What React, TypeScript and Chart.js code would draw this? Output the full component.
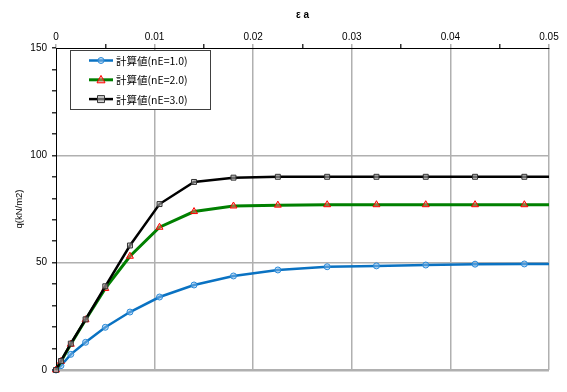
import React, { useEffect, useRef } from 'react';
import { Chart, registerables } from 'chart.js';
Chart.register(...registerables);

// ---- data ----
const strainValues = [0, 0.0005, 0.0015, 0.003, 0.005, 0.0075, 0.0105, 0.014, 0.018, 0.0225, 0.0275, 0.0325, 0.0375, 0.0425, 0.0475, 0.05];
const qNE10 = [0, 2, 7.3, 12.9, 19.9, 27, 34, 39.6, 43.8, 46.6, 48.1, 48.5, 48.9, 49.3, 49.4, 49.4];
const qNE20 = [0, 4, 12, 23.4, 38, 53, 66.5, 73.8, 76.4, 76.8, 77, 77, 77, 77, 77, 77];
const qNE30 = [0, 4.2, 12.3, 23.6, 39, 58, 77.3, 87.6, 89.6, 90, 90, 90, 90, 90, 90, 90];
const seriesLabels = ['計算値(nE=1.0)', '計算値(nE=2.0)', '計算値(nE=3.0)'];
const xTickLabels = ['0', '0.01', '0.02', '0.03', '0.04', '0.05'];
const yTickLabels = ['0', '50', '100', '150'];
const xTitle = 'ε a';
const yTitle = 'q(kN/m2)';

const toPoints = (ys: number[]) => strainValues.map((x, i) => ({ x, y: ys[i] }));
const lastIdx = strainValues.length - 1;

const GRID = '#b0b0b0';

function drawMarker(ctx: CanvasRenderingContext2D, style: string, x: number, y: number, r: number, fill: string, stroke: string) {
  ctx.beginPath();
  if (style === 'circle') {
    ctx.arc(x, y, r, 0, Math.PI * 2);
  } else if (style === 'triangle') {
    ctx.moveTo(x, y - r * 1.1);
    ctx.lineTo(x + r, y + r * 0.75);
    ctx.lineTo(x - r, y + r * 0.75);
    ctx.closePath();
  } else {
    ctx.rect(x - r, y - r, r * 2, r * 2);
  }
  ctx.fillStyle = fill;
  ctx.fill();
  ctx.lineWidth = 1;
  ctx.strokeStyle = stroke;
  ctx.stroke();
}

const boxLegend = {
  id: 'boxLegend',
  afterDraw(chart: any) {
    const ctx: CanvasRenderingContext2D = chart.ctx;
    const x0 = 70, y0 = 50, w = 140, h = 59;
    ctx.save();
    ctx.fillStyle = '#ffffff';
    ctx.fillRect(x0, y0, w, h);
    ctx.strokeStyle = '#404040';
    ctx.lineWidth = 1;
    ctx.strokeRect(x0 + 0.5, y0 + 0.5, w, h);
    [0, 1, 2].forEach((i, row) => {
      const ds = chart.data.datasets[i];
      const y = y0 + 10.5 + row * 19.3;
      ctx.beginPath();
      ctx.moveTo(x0 + 19, y);
      ctx.lineTo(x0 + 43, y);
      ctx.strokeStyle = ds.borderColor;
      ctx.lineWidth = ds.borderWidth;
      ctx.stroke();
      drawMarker(ctx, ds.pointStyle, x0 + 31, y, ds.markerSize, ds.pointBackgroundColor, ds.pointBorderColor);
      ctx.fillStyle = '#000';
      ctx.font = '10.5px "Noto Sans CJK JP", sans-serif';
      ctx.textBaseline = 'middle';
      ctx.textAlign = 'left';
      ctx.fillText(ds.label, x0 + 46, y + 0.5);
    });
    ctx.restore();
  },
};

const radiusFn = (r: number) => (c: any) => (c.dataIndex === lastIdx ? 0 : r);

export default function App() {
  const ref = useRef<HTMLCanvasElement>(null);
  useEffect(() => {
    if (!ref.current) return;
    const chart = new Chart(ref.current, {
      type: 'line',
      data: {
        datasets: [
          {
            label: seriesLabels[0],
            data: toPoints(qNE10),
            borderColor: '#0a72c2',
            borderWidth: 2.5,
            pointStyle: 'circle',
            markerSize: 3,
            pointRadius: radiusFn(3),
            pointBackgroundColor: 'rgba(140,190,235,0.5)',
            pointBorderColor: '#2a8ad8',
            pointBorderWidth: 1,
            clip: false,
            order: 2,
          } as any,
          {
            label: seriesLabels[1],
            data: toPoints(qNE20),
            borderColor: '#008000',
            borderWidth: 3,
            pointStyle: 'triangle',
            markerSize: 4,
            pointRadius: radiusFn(4),
            pointBackgroundColor: 'rgba(255,130,130,0.5)',
            pointBorderColor: '#ff0000',
            pointBorderWidth: 1,
            clip: false,
            order: 1,
          } as any,
          {
            label: seriesLabels[2],
            data: toPoints(qNE30),
            borderColor: '#000000',
            borderWidth: 2.5,
            pointStyle: 'rect',
            markerSize: 3.5,
            pointRadius: radiusFn(3.5),
            pointBackgroundColor: 'rgba(180,180,180,0.6)',
            pointBorderColor: '#333333',
            pointBorderWidth: 1,
            clip: false,
            order: 0,
          } as any,
        ],
      },
      options: {
        responsive: false,
        animation: false,
        layout: { padding: { left: 0, top: 0, right: 18, bottom: 22 } },
        plugins: { legend: { display: false }, tooltip: { enabled: false } },
        elements: { line: { tension: 0 } },
        scales: {
          x: {
            type: 'linear',
            position: 'top',
            min: 0,
            max: 0.05,
            afterFit: (s: any) => { s.height = 48; },
            ticks: {
              stepSize: 0.005,
              autoSkip: false,
              maxRotation: 0,
              padding: 0.5,
              color: '#000',
              font: { family: '"Liberation Sans", Arial, sans-serif', size: 10 },
              callback: (v: any) => {
                const k = Math.round(Number(v) * 200);
                return k % 2 === 0 ? xTickLabels[k / 2] : '';
              },
            },
            grid: {
              drawOnChartArea: true,
              tickLength: 4,
              lineWidth: 1.5,
              color: (c: any) => {
                const k = Math.round(Number(c.tick?.value) * 200);
                return k % 2 === 0 && k !== 0 ? GRID : 'rgba(0,0,0,0)';
              },
              tickColor: (c: any) => {
                const k = Math.round(Number(c.tick?.value) * 200);
                return k % 2 === 0 ? GRID : '#333';
              },
            },
            border: { display: true, color: '#000', width: 1 },
            title: {
              display: true,
              text: xTitle,
              color: '#000',
              font: { family: '"Liberation Sans", Arial, sans-serif', size: 10, weight: 'bold' },
              padding: { top: 9, bottom: 0 },
            },
          },
          y: {
            type: 'linear',
            min: 0,
            max: 150,
            afterFit: (s: any) => { s.width = 56; },
            ticks: {
              stepSize: 10,
              autoSkip: false,
              padding: 5,
              color: '#000',
              font: { family: '"Liberation Sans", Arial, sans-serif', size: 10 },
              callback: (v: any) => {
                const n = Number(v);
                return n % 50 === 0 ? yTickLabels[n / 50] : '';
              },
            },
            grid: {
              drawOnChartArea: true,
              tickLength: 4,
              lineWidth: (c: any) => (c.tick?.value === 0 ? 2.5 : 1.5),
              color: (c: any) => {
                const n = Number(c.tick?.value);
                return n % 50 === 0 && n !== 150 ? GRID : 'rgba(0,0,0,0)';
              },
              tickColor: '#333',
            },
            border: { display: true, color: '#000', width: 1 },
            title: {
              display: true,
              text: yTitle,
              color: '#000',
              font: { family: '"Liberation Sans", Arial, sans-serif', size: 9.5 },
              padding: { top: 14, bottom: 0 },
            },
          },
        },
      },
      plugins: [boxLegend],
    });
    return () => chart.destroy();
  }, []);
  return (
    <div style={{ position: 'fixed', left: 0, top: 0, width: 567, height: 392, background: '#fff' }}>
      <canvas ref={ref} width={567} height={392} style={{ display: 'block' }} />
    </div>
  );
}
